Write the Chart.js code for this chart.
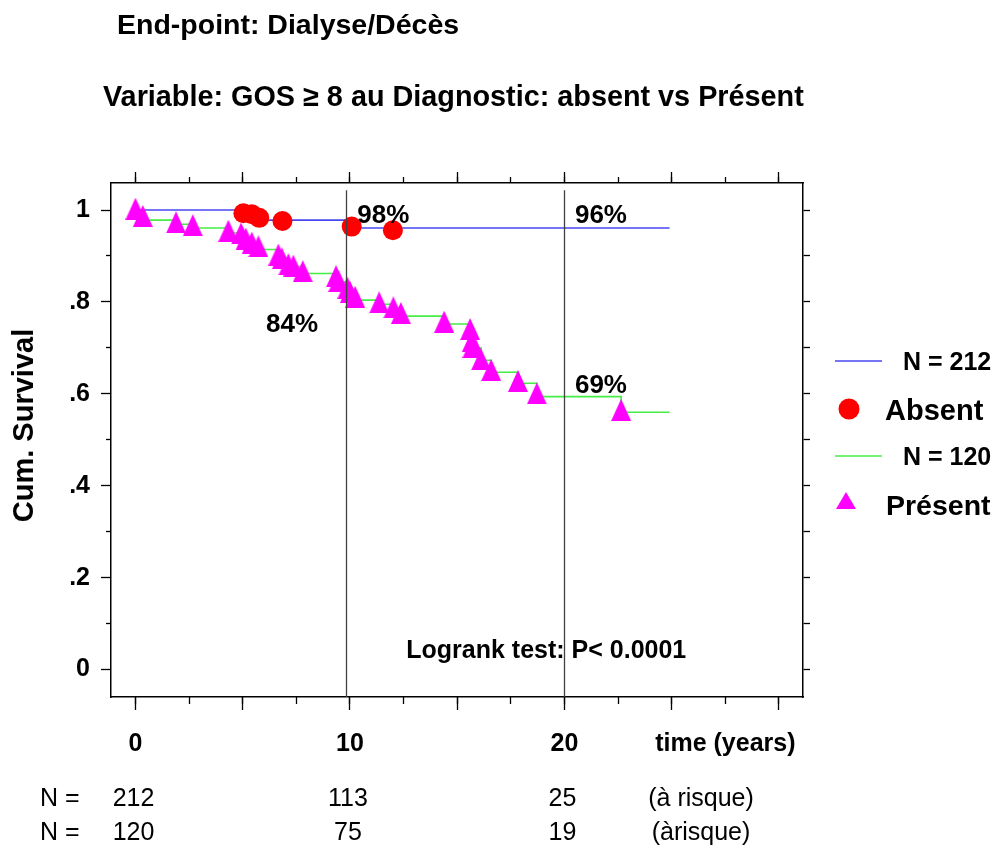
<!DOCTYPE html>
<html>
<head>
<meta charset="utf-8">
<title>End-point: Dialyse/Décès</title>
<script src="https://cdn.jsdelivr.net/npm/chart.js@4.4.1/dist/chart.umd.min.js"></script>
<style>
  html, body { margin: 0; padding: 0; background: #fff; }
  #wrap { position: relative; width: 1000px; height: 853px; }
  .title {
    position: absolute; white-space: nowrap; color: #000;
    font-family: 'Liberation Sans', Arial, sans-serif; font-weight: bold; line-height: 1;
  }
</style>
</head>
<body>
<div id="wrap">
  <canvas id="km"></canvas>
  <div class="title" style="left:117px; top:10px; font-size:28.5px;">End-point: Dialyse/Décès</div>
  <div class="title" style="left:103px; top:82px; font-size:28.8px;">Variable: GOS ≥ 8 au Diagnostic: absent vs Présent</div>
</div>
<script>
// Kaplan-Meier curve, GOS >= 8 absent (blue / red circles)
const ABSENT_CURVE_TIME = [0, 5.05, 10.1, 24.9];
const ABSENT_CURVE_SURV = [1.0, 0.978, 0.961, 0.961];
const ABSENT_MARK_TIME = [5.03, 5.42, 5.77, 6.85, 10.08, 12.0];
const ABSENT_MARK_SURV = [0.993, 0.991, 0.983, 0.976, 0.964, 0.956];

// GOS >= 8 present (green / magenta triangles)
const PRESENT_CURVE_TIME = [0, 0.34, 1.89, 2.67, 4.33, 4.92, 5.14, 5.42, 5.73, 6.66, 6.82, 7.13, 7.36, 7.80,
  9.35, 9.46, 9.88, 10.0, 10.24, 11.36, 12.02, 12.37, 14.39, 15.60, 15.68, 15.71, 16.11, 16.58, 17.83, 18.71, 22.64, 24.9];
const PRESENT_CURVE_SURV = [1.0, 0.978, 0.969, 0.961, 0.950, 0.940, 0.931, 0.922, 0.914, 0.905, 0.896, 0.887, 0.877, 0.862,
  0.853, 0.843, 0.833, 0.823, 0.804, 0.795, 0.786, 0.769, 0.752, 0.739, 0.713, 0.700, 0.673, 0.647, 0.623, 0.594, 0.560, 0.560];
const PRESENT_MARK_TIME = [0, 0.34, 1.89, 2.67, 4.33, 4.92, 5.14, 5.42, 5.73, 6.66, 6.82, 7.13, 7.36, 7.80,
  9.35, 9.46, 9.88, 10.0, 10.24, 11.36, 12.02, 12.37, 14.39, 15.60, 15.68, 15.71, 16.11, 16.58, 17.83, 18.71, 22.64];
const PRESENT_MARK_SURV = [1.003, 0.987, 0.973, 0.967, 0.955, 0.949, 0.938, 0.929, 0.921, 0.903, 0.895, 0.882, 0.879, 0.867,
  0.856, 0.846, 0.831, 0.822, 0.811, 0.799, 0.788, 0.776, 0.757, 0.741, 0.715, 0.702, 0.675, 0.652, 0.628, 0.601, 0.565];

// at-risk table
const RISK_TIMES = [0, 10, 20];
const RISK_ABSENT = [212, 113, 25];
const RISK_PRESENT = [120, 75, 19];

// ticks
const X_MAJOR = [0, 5, 10, 15, 20, 25, 30];
const X_MINOR = [0, 2.5, 5, 7.5, 10, 12.5, 15, 17.5, 20, 22.5, 25, 27.5, 30];
const X_LABEL_VALUES = [0, 10, 20, 27.5];
const X_LABEL_TEXT = ['0', '10', '20', 'time (years)'];
const Y_MAJOR = [0, 0.2, 0.4, 0.6, 0.8, 1];
const Y_LABELS = ['0', '.2', '.4', '.6', '.8', '1'];
const Y_MINOR = [0.1, 0.3, 0.5, 0.7, 0.9];
const Y_RIGHT = [0, 0.1, 0.2, 0.3, 0.4, 0.5, 0.6, 0.7, 0.8, 0.9, 1];

// reference lines (drawn a hair left of the ticks, as in the original)
const REF_TIMES = [9.83, 19.96];
const ANNOTATIONS = [
  { text: '98%', t: 11.55, s: 0.987 },
  { text: '96%', t: 21.7, s: 0.987 },
  { text: '84%', t: 7.3, s: 0.750 },
  { text: '69%', t: 21.7, s: 0.617 }
];

const X_MIN = -1.142, X_MAX = 31.12;
const Y_MIN = -0.0598, Y_MAX = 1.0588;

const FONT = "'Liberation Sans', Arial, Helvetica, sans-serif";
const COLORS = {
  blue: '#4848f2',
  red: '#ff0000',
  green: '#44ee44',
  magenta: '#ff00ff',
  ref: '#404040'
};

Chart.defaults.font.family = FONT;
Chart.defaults.color = '#000';

function triangleMarker(w, h, color) {
  const c = document.createElement('canvas');
  c.width = w; c.height = h;
  const g = c.getContext('2d');
  g.fillStyle = color;
  g.beginPath();
  g.moveTo(w / 2, 0);
  g.lineTo(w, h);
  g.lineTo(0, h);
  g.closePath();
  g.fill();
  return c;
}
const TRIANGLE = triangleMarker(20, 22, COLORS.magenta);
const TRIANGLE_SMALL = triangleMarker(20, 17, COLORS.magenta);

const pts = (xs, ys) => xs.map((t, i) => ({ x: t, y: ys[i] }));
const setTicks = vals => axis => { axis.ticks = vals.map(v => ({ value: v })); };

function markAxis(position, vals, len, border, weight) {
  const horiz = position === 'top' || position === 'bottom';
  return {
    type: 'linear', position: position, weight: weight || 0,
    min: horiz ? X_MIN : Y_MIN, max: horiz ? X_MAX : Y_MAX,
    afterBuildTicks: setTicks(vals),
    afterFit: axis => { if (horiz) axis.height = 0; else axis.width = 0; },
    grid: { drawOnChartArea: false, tickLength: len, tickColor: '#000', tickWidth: 1.3 },
    border: { display: border, color: '#000', width: 1.5 },
    ticks: { display: false }
  };
}

const overlay = {
  id: 'overlay',
  afterDatasetsDraw(chart) {
    const { ctx, chartArea } = chart;
    const x = chart.scales.x, y = chart.scales.y;
    ctx.save();
    ctx.strokeStyle = COLORS.ref;
    ctx.lineWidth = 1.3;
    REF_TIMES.forEach(t => {
      const px = Math.round(x.getPixelForValue(t)) + 0.5;
      ctx.beginPath();
      ctx.moveTo(px, y.getPixelForValue(1.043));
      ctx.lineTo(px, chartArea.bottom);
      ctx.stroke();
    });
    ctx.fillStyle = '#000';
    ctx.textAlign = 'center';
    ctx.textBaseline = 'middle';
    ctx.font = `bold 26px ${FONT}`;
    ANNOTATIONS.forEach(a => ctx.fillText(a.text, x.getPixelForValue(a.t), y.getPixelForValue(a.s)));
    ctx.font = `bold 25px ${FONT}`;
    ctx.fillText('Logrank test: P< 0.0001', x.getPixelForValue(19.15), y.getPixelForValue(0.04));
    ctx.restore();
  },
  afterDraw(chart) {
    const { ctx } = chart;
    const x = chart.scales.x;
    const ds = chart.data.datasets;
    ctx.save();
    ctx.fillStyle = '#000';
    ctx.textBaseline = 'middle';

    // legend
    const lineEntry = (d, yy) => {
      ctx.strokeStyle = d.borderColor;
      ctx.lineWidth = 1.6;
      ctx.beginPath(); ctx.moveTo(835, yy); ctx.lineTo(882, yy); ctx.stroke();
      ctx.font = `bold 25px ${FONT}`;
      ctx.textAlign = 'left';
      ctx.fillText(d.label, 903, yy + 2);
    };
    lineEntry(ds[0], 361);
    ctx.fillStyle = COLORS.red;
    ctx.beginPath(); ctx.arc(849, 409, 10.5, 0, Math.PI * 2); ctx.fill();
    ctx.fillStyle = '#000';
    ctx.font = `bold 29px ${FONT}`;
    ctx.fillText(ds[1].label, 885, 412);
    lineEntry(ds[2], 456);
    ctx.drawImage(TRIANGLE_SMALL, 836, 492);
    ctx.font = `bold 28.5px ${FONT}`;
    ctx.fillText(ds[3].label, 886, 507);

    // at-risk table
    ctx.font = `25px ${FONT}`;
    [[RISK_ABSENT, 799, '(à risque)'], [RISK_PRESENT, 833, '(àrisque)']].forEach(([vals, yy, note]) => {
      ctx.textAlign = 'left';
      ctx.fillText('N =', 40, yy);
      ctx.textAlign = 'center';
      vals.forEach((v, i) => ctx.fillText(String(v), x.getPixelForValue(RISK_TIMES[i]) - 2, yy));
      ctx.fillText(note, 701, yy);
    });
    ctx.restore();
  }
};

new Chart(document.getElementById('km'), {
  type: 'line',
  data: {
    datasets: [
      {
        label: 'N = 212', data: pts(ABSENT_CURVE_TIME, ABSENT_CURVE_SURV),
        stepped: true, borderColor: COLORS.blue, borderWidth: 1.6, pointRadius: 0, fill: false, order: 2
      },
      {
        label: 'Absent', data: pts(ABSENT_MARK_TIME, ABSENT_MARK_SURV), showLine: false,
        pointStyle: 'circle', pointRadius: 10, pointBackgroundColor: COLORS.red, pointBorderColor: COLORS.red,
        pointBorderWidth: 0, order: 1
      },
      {
        label: 'N = 120', data: pts(PRESENT_CURVE_TIME, PRESENT_CURVE_SURV),
        stepped: true, borderColor: COLORS.green, borderWidth: 1.6, pointRadius: 0, fill: false, order: 2
      },
      {
        label: 'Présent', data: pts(PRESENT_MARK_TIME, PRESENT_MARK_SURV), showLine: false,
        pointStyle: TRIANGLE, pointRadius: 10, pointBorderWidth: 0, order: 1
      }
    ]
  },
  options: {
    responsive: true,
    maintainAspectRatio: false,
    animation: false,
    layout: { padding: { left: 0, right: 197, top: 183, bottom: 96 } },
    plugins: { legend: { display: false }, tooltip: { enabled: false } },
    scales: {
      x: markAxis('bottom', X_MAJOR, 13, true, 0),
      xMinor: markAxis('bottom', X_MINOR, 7, false, 0),
      xLab: {
        type: 'linear', position: 'bottom', weight: 1, min: X_MIN, max: X_MAX,
        afterBuildTicks: setTicks(X_LABEL_VALUES),
        afterFit: axis => { axis.height = 60; },
        grid: { drawOnChartArea: false, tickLength: 13, tickColor: 'rgba(0,0,0,0)' },
        border: { display: false },
        ticks: {
          padding: 19, autoSkip: false, maxRotation: 0,
          font: { size: 25, weight: 'bold' },
          callback: (v, i) => X_LABEL_TEXT[i]
        }
      },
      xTop: markAxis('top', X_MAJOR, 11, true, 0),
      xTopMinor: markAxis('top', X_MINOR, 6, false, 0),
      y: {
        type: 'linear', position: 'left', weight: 1, min: Y_MIN, max: Y_MAX,
        afterBuildTicks: setTicks(Y_MAJOR),
        afterFit: axis => { axis.width = 111; },
        grid: { drawOnChartArea: false, tickLength: 10, tickColor: '#000', tickWidth: 1.3 },
        border: { display: true, color: '#000', width: 1.5 },
        ticks: { padding: 11, font: { size: 25, weight: 'bold' }, callback: (v, i) => Y_LABELS[i] },
        title: {
          display: true, text: '\u2003Cum. Survival', font: { size: 29, weight: 'bold' },
          padding: { top: 8, bottom: 0 }
        }
      },
      yMinor: markAxis('left', Y_MINOR, 5, false, 0),
      yRight: markAxis('right', Y_RIGHT, 7, true, 0)
    }
  },
  plugins: [overlay]
});
</script>
</body>
</html>
